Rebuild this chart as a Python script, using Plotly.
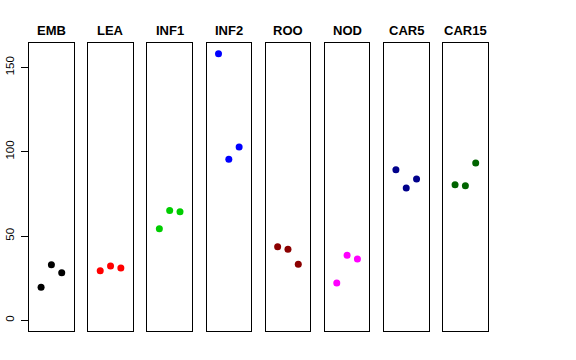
import plotly.graph_objects as go

tissues = ["EMB", "LEA", "INF1", "INF2", "ROO", "NOD", "CAR5", "CAR15"]
colors = ["#000000", "#FF0000", "#00CD00", "#0000FF", "#8B0000", "#FF00FF", "#00008B", "#006400"]
rep_x = [1, 2, 3]
values = {
    "EMB": [19.6, 33.0, 28.2],
    "LEA": [29.4, 32.2, 31.0],
    "INF1": [54.3, 65.2, 64.4],
    "INF2": [158.1, 95.5, 102.8],
    "ROO": [43.7, 42.1, 33.2],
    "NOD": [22.1, 38.6, 36.4],
    "CAR5": [89.3, 78.5, 83.8],
    "CAR15": [80.4, 79.8, 93.3],
}
y_ticks = [0, 50, 100, 150]

W, H = 576, 360
fig = go.Figure()
left0, pitch, pw = 29.1, 59.14, 44.6
ytop, ybot = 43, 331
y_dom = [1 - ybot / H, 1 - ytop / H]

for i, (t, c) in enumerate(zip(tissues, colors)):
    n = "" if i == 0 else str(i + 1)
    l = left0 + pitch * i
    fig.add_trace(go.Scatter(x=rep_x, y=values[t], mode="markers",
                             marker=dict(color=c, size=7),
                             xaxis="x" + n, yaxis="y" + n, showlegend=False,
                             hoverinfo="skip"))
    fig.layout["xaxis" + n] = dict(domain=[l / W, (l + pw) / W], range=[-0.16, 4.16],
                                   showline=True, mirror=True, linecolor="black", linewidth=1,
                                   showgrid=False, zeroline=False, showticklabels=False, ticks="",
                                   anchor="y" + n, automargin=False)
    yax = dict(domain=y_dom, range=[-6.33, 164.5], showline=True, mirror=True,
               linecolor="black", linewidth=1, showgrid=False, zeroline=False,
               anchor="x" + n, automargin=False)
    if i == 0:
        yax.update(tickvals=y_ticks, ticks="outside", ticklen=7, tickcolor="black",
                   tickangle=-90, tickfont=dict(size=11.5, color="black"),
                   ticklabelstandoff=3)
    else:
        yax.update(showticklabels=False, ticks="")
    fig.layout["yaxis" + n] = yax
    fig.add_annotation(text="<b>%s</b>" % t, x=(l + pw / 2) / W, y=1 - 30.3 / H,
                       xref="paper", yref="paper", showarrow=False,
                       xanchor="center", yanchor="middle",
                       font=dict(size=13, color="black"))

fig.update_layout(width=W, height=H, margin=dict(l=0, r=0, t=0, b=0),
                  paper_bgcolor="white", plot_bgcolor="white",
                  font=dict(family="Liberation Sans, Arial, sans-serif"))
fig.write_html("out.html", config={"displayModeBar": False},
               post_script="document.body.style.margin='0';")
